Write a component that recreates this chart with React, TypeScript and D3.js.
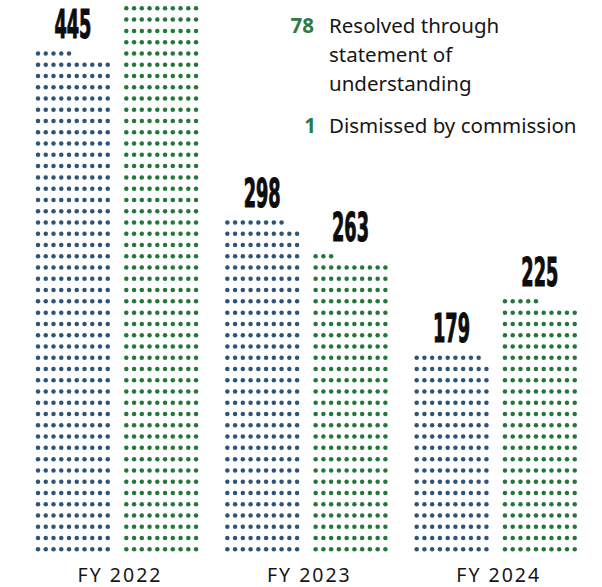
import React from "react";
import * as d3 from "d3";

const years = ["FY 2022", "FY 2023", "FY 2024"];
const seriesKeys = ["opened", "closed"];
const openedValues = [445, 298, 179];
const closedValues = [500, 263, 225];
const legendNumbers = ["78", "1"];
const legendLabels = [["Resolved through", "statement of", "understanding"], ["Dismissed by commission"]];

const W = 602;
const H = 587;
const COLS = 10;
const COL_STEP = 7.75;
const ROW_STEP = 11.27;
const BOTTOM = 549.3;
const R = 2.25;

const colors: Record<string, string> = { opened: "#2f5479", closed: "#23773a" };

export default function App() {
  const xYear = d3.scaleBand<string>().domain(years).range([28.5, 596.5]).paddingInner(0).paddingOuter(0);
  const xSeries = d3.scaleBand<string>().domain(seriesKeys).range([0, 176.6]);
  const yRow = d3.scaleLinear().domain([0, 1]).range([BOTTOM, BOTTOM - ROW_STEP]);
  const xCol = d3.scaleLinear().domain([0, 1]).range([9.5, 9.5 + COL_STEP]);

  const bars: { year: string; key: string; value: number }[] = [];
  years.forEach((y, i) => {
    bars.push({ year: y, key: "opened", value: openedValues[i] });
    bars.push({ year: y, key: "closed", value: closedValues[i] });
  });

  return (
    <svg width={W} height={H} style={{ position: "absolute", left: 0, top: 0, background: "#fff" }}>
      {bars.map((b) => {
        const x0 = (xYear(b.year) ?? 0) + (xSeries(b.key) ?? 0);
        const dots = d3.range(b.value).map((i) => ({ r: Math.floor(i / COLS), c: i % COLS }));
        const topRow = Math.floor((b.value - 1) / COLS);
        const cx0 = x0 + xCol(0);
        const cx1 = x0 + xCol(COLS - 1);
        const ly = yRow(topRow) - 15.5;
        return (
          <g key={b.year + b.key}>
            {dots.map((d, i) => (
              <circle key={i} cx={x0 + xCol(d.c)} cy={yRow(d.r)} r={R} fill={colors[b.key]} />
            ))}
            {ly > 30 && (
              <text
                x={(cx0 + cx1) / 2}
                y={ly}
                textAnchor="middle"
                fontFamily="'Liberation Sans Narrow', 'DejaVu Sans Condensed', sans-serif"
                fontWeight={700}
                fontSize={39}
                textLength={37}
                lengthAdjust="spacingAndGlyphs"
                fill="#0d0d0d"
                stroke="#0d0d0d"
                strokeWidth={1.1}
              >
                {b.value}
              </text>
            )}
          </g>
        );
      })}
      {years.map((y) => (
        <text
          key={y}
          x={(xYear(y) ?? 0) + xCol(0) + 88.3 / 2 + (COLS - 1) * COL_STEP / 2 + 3}
          y={582}
          textAnchor="middle"
          fontFamily="'Noto Sans', sans-serif"
          fontSize={19.5}
          letterSpacing={2}
          fill="#161616"
        >
          {y}
        </text>
      ))}
      <g fontFamily="'Noto Sans', sans-serif" fontSize={20.5}>
        <text x={314} y={33} textAnchor="end" fontWeight={700} fill="#2e7a45">{legendNumbers[0]}</text>
        {legendLabels[0].map((l, i) => (
          <text key={l} x={329} y={33 + i * 28.8} fill="#161616">{l}</text>
        ))}
        <text x={316} y={133} textAnchor="end" fontWeight={700} fill="#2e7a45">{legendNumbers[1]}</text>
        {legendLabels[1].map((l) => (
          <text key={l} x={329} y={133} fill="#161616">{l}</text>
        ))}
      </g>
    </svg>
  );
}
